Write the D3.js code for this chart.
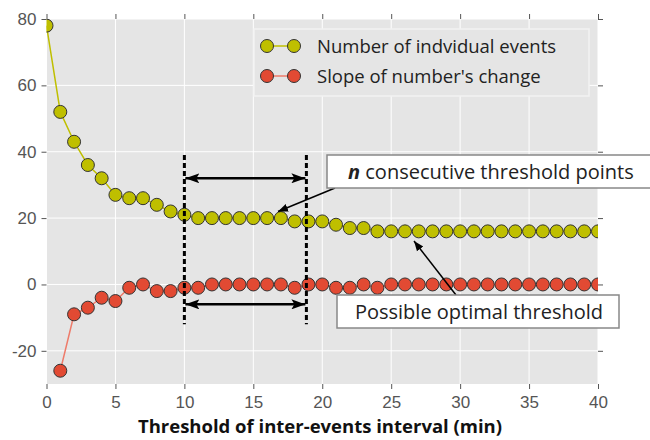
<!DOCTYPE html>
<html lang="en">
<head>
  <meta charset="UTF-8">
  <title>Threshold of inter-events interval</title>
  <style>
    body { margin: 0; background: #fff; }
    svg { display: block; font-family: "Open Sans", "Noto Sans", sans-serif; }
    .tick text { fill: #555; font-size: 17px; }
    .tick line { stroke: #555; }
    .domain { display: none; }
    .grid line { stroke: #fff; stroke-width: 1; }
  </style>
</head>
<body>
  <script src="https://cdn.jsdelivr.net/npm/d3@7"></script>
  <script>
    // data
    const thresholds = d3.range(0, 41);
    const eventCounts = [78, 52, 43, 36, 32, 27, 26, 26, 24, 22, 21, 20, 20, 20, 20, 20, 20, 20, 19, 19,
                         19, 18, 17, 17, 16, 16, 16, 16, 16, 16, 16, 16, 16, 16, 16, 16, 16, 16, 16, 16, 16];
    // slope has no value at 0
    const slopes = [null, -26, -9, -7, -4, -5, -1, 0, -2, -2, -1, -1, 0, 0, 0, 0, 0, 0, -1, 0,
                    0, -1, -1, 0, -1, 0, 0, 0, 0, 0, 0, 0, 0, 0, 0, 0, 0, 0, 0, 0, 0];
    const xTicks = [0, 5, 10, 15, 20, 25, 30, 35, 40];
    const yTicks = [-20, 0, 20, 40, 60, 80];
    const seriesNames = ['Number of indvidual events', "Slope of number's change"];
    const rangeStart = 10, rangeEnd = 18.85;

    const W = 650, H = 440;
    const margin = {top: 19, right: 52, bottom: 56, left: 46.5};
    const innerW = W - margin.left - margin.right;
    const innerH = H - margin.top - margin.bottom;

    const svg = d3.select('body').append('svg')
      .attr('width', W).attr('height', H);

    const defs = svg.append('defs');
    defs.append('clipPath').attr('id', 'clip')
      .append('rect').attr('width', innerW).attr('height', innerH);
    defs.append('marker').attr('id', 'head')
      .attr('viewBox', '0 0 10 10').attr('refX', 10).attr('refY', 5)
      .attr('markerWidth', 10).attr('markerHeight', 10)
      .attr('markerUnits', 'userSpaceOnUse').attr('orient', 'auto-start-reverse')
      .append('path').attr('d', 'M0,1 L10,5 L0,9 Z').attr('fill', '#000');
    defs.append('marker').attr('id', 'bighead')
      .attr('viewBox', '0 0 14 10').attr('refX', 14).attr('refY', 5)
      .attr('markerWidth', 14).attr('markerHeight', 10)
      .attr('markerUnits', 'userSpaceOnUse').attr('orient', 'auto-start-reverse')
      .append('path').attr('d', 'M0,0 L14,5 L0,10 L3,5 Z').attr('fill', '#000');

    const x = d3.scaleLinear().domain([0, 40]).range([0, innerW]);
    const y = d3.scaleLinear().domain([-30, 80]).range([innerH, 0]);

    const g = svg.append('g').attr('transform', `translate(${margin.left},${margin.top})`);

    g.append('rect').attr('width', innerW).attr('height', innerH).attr('fill', '#e5e5e5');

    // grid
    g.append('g').attr('class', 'grid').selectAll('line').data(xTicks).join('line')
      .attr('x1', d => x(d)).attr('x2', d => x(d)).attr('y1', 0).attr('y2', innerH);
    g.append('g').attr('class', 'grid').selectAll('line').data(yTicks).join('line')
      .attr('y1', d => y(d)).attr('y2', d => y(d)).attr('x1', 0).attr('x2', innerW);

    // axes (hyphen minus like the original)
    const fmt = d => String(d);
    g.append('g').attr('transform', `translate(0,${innerH})`)
      .call(d3.axisBottom(x).tickValues(xTicks).tickSize(5).tickPadding(7).tickFormat(fmt));
    g.append('g')
      .call(d3.axisTop(x).tickValues(xTicks).tickSize(5).tickFormat(''));
    g.append('g')
      .call(d3.axisLeft(y).tickValues(yTicks).tickSize(5).tickPadding(5).tickFormat(fmt));
    g.append('g').attr('transform', `translate(${innerW},0)`)
      .call(d3.axisRight(y).tickValues(yTicks).tickSize(5).tickFormat(''));

    const plot = g.append('g').attr('clip-path', 'url(#clip)');

    const series = [
      {values: eventCounts, fill: '#bfbf00', line: '#bfbf00'},
      {values: slopes, fill: '#e24a33', line: '#ee7b6a'}
    ];

    series.forEach(s => {
      const pts = thresholds.map((t, i) => [t, s.values[i]]).filter(p => p[1] !== null);
      plot.append('path').datum(pts)
        .attr('fill', 'none').attr('stroke', s.line).attr('stroke-width', 1.5)
        .attr('d', d3.line().x(d => x(d[0])).y(d => y(d[1])));
      plot.append('g').selectAll('circle').data(pts).join('circle')
        .attr('cx', d => x(d[0])).attr('cy', d => y(d[1])).attr('r', 6.5)
        .attr('fill', s.fill).attr('stroke', '#333').attr('stroke-width', 1);
    });

    // dashed markers of the consecutive range
    [rangeStart, rangeEnd].forEach(v => {
      g.append('line')
        .attr('x1', x(v)).attr('x2', x(v)).attr('y1', y(39)).attr('y2', y(-12))
        .attr('stroke', '#000').attr('stroke-width', 3).attr('stroke-dasharray', '5,3');
    });
    [32, -6].forEach(v => {
      g.append('line')
        .attr('x1', x(rangeStart) + 1).attr('x2', x(rangeEnd) - 1).attr('y1', y(v)).attr('y2', y(v))
        .attr('stroke', '#000').attr('stroke-width', 2.5)
        .attr('marker-start', 'url(#bighead)').attr('marker-end', 'url(#bighead)');
    });

    // legend
    const leg = g.append('g').attr('transform', `translate(${254 - margin.left},${29 - margin.top})`);
    leg.append('rect').attr('width', 335).attr('height', 67)
      .attr('fill', '#e5e5e5').attr('stroke', '#f2f2f2').attr('stroke-width', 1.5);
    series.forEach((s, i) => {
      const ly = 17 + i * 30;
      leg.append('line').attr('x1', 13).attr('x2', 40).attr('y1', ly).attr('y2', ly)
        .attr('stroke', s.line).attr('stroke-width', 1.5);
      [13, 40].forEach(cx => leg.append('circle').attr('cx', cx).attr('cy', ly).attr('r', 6.5)
        .attr('fill', s.fill).attr('stroke', '#333').attr('stroke-width', 1));
      leg.append('text').attr('x', 63).attr('y', ly).attr('dy', '0.36em')
        .attr('font-size', 18.5).attr('fill', '#222').text(seriesNames[i]);
    });

    // annotations (page coordinates)
    const ann = svg.append('g');
    ann.append('line').attr('x1', 335).attr('y1', 188).attr('x2', 278).attr('y2', 211.5)
      .attr('stroke', '#000').attr('stroke-width', 1.5).attr('marker-end', 'url(#head)');
    ann.append('rect').attr('x', 327).attr('y', 155).attr('width', 340).attr('height', 33)
      .attr('fill', '#fff').attr('stroke', '#888').attr('stroke-width', 1.5);
    const t1 = ann.append('text').attr('x', 348).attr('y', 172).attr('dy', '0.36em')
      .attr('font-size', 20).attr('fill', '#222');
    t1.append('tspan').attr('font-weight', 'bold').attr('font-style', 'italic').text('n');
    t1.append('tspan').text(' consecutive threshold points');

    ann.append('line').attr('x1', 456).attr('y1', 295).attr('x2', 414).attr('y2', 241)
      .attr('stroke', '#000').attr('stroke-width', 1.5).attr('marker-end', 'url(#head)');
    ann.append('rect').attr('x', 337).attr('y', 295).attr('width', 282).attr('height', 33)
      .attr('fill', '#fff').attr('stroke', '#888').attr('stroke-width', 1.5);
    ann.append('text').attr('x', 479).attr('y', 312).attr('dy', '0.36em').attr('text-anchor', 'middle')
      .attr('font-size', 20).attr('fill', '#222').text('Possible optimal threshold');

    // x title
    svg.append('text').attr('x', 320).attr('y', 433)
      .attr('text-anchor', 'middle').attr('font-size', 18.5).attr('font-weight', 'bold')
      .attr('fill', '#111').text('Threshold of inter-events interval (min)');
  </script>
</body>
</html>
